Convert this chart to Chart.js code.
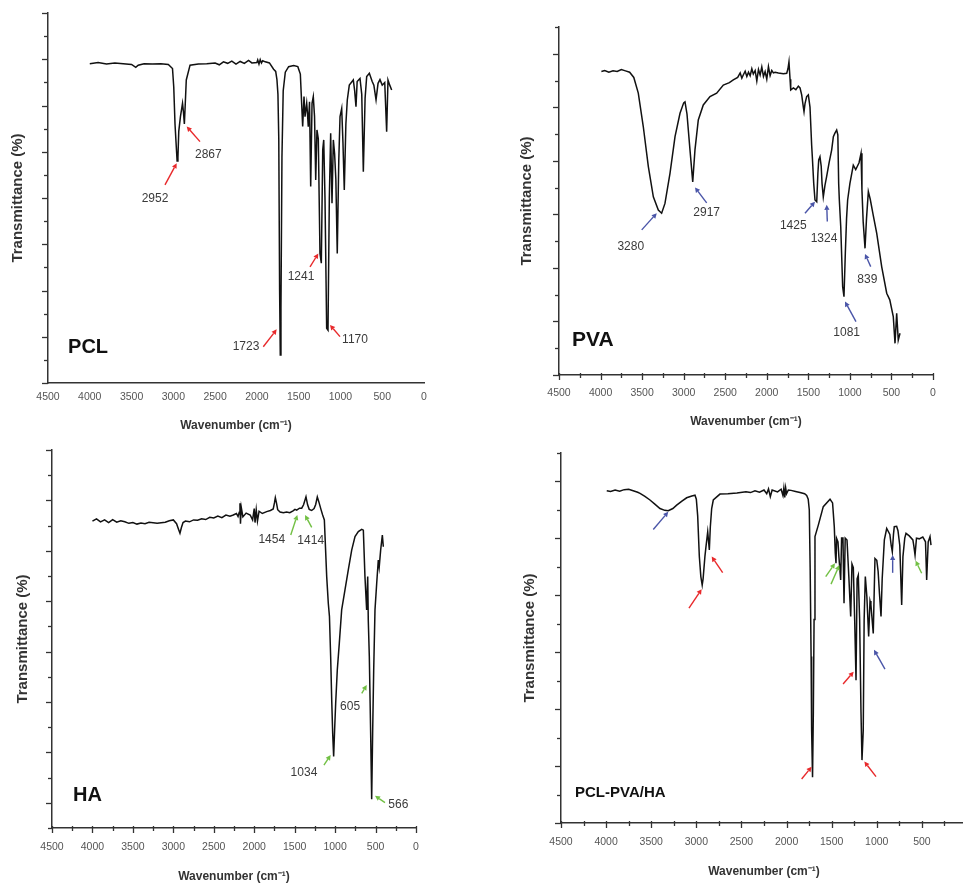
<!DOCTYPE html>
<html><head><meta charset="utf-8">
<script src="https://cdn.jsdelivr.net/npm/chart.js@4/dist/chart.umd.min.js"></script>
<style>
html,body{margin:0;padding:0;background:#fff;overflow:hidden;width:963px;height:884px;}
canvas{position:absolute;display:block;}
</style></head><body>
<canvas id="c1" width="480" height="440" style="left:0;top:0"></canvas>
<canvas id="c2" width="483" height="440" style="left:480px;top:0"></canvas>
<canvas id="c3" width="480" height="444" style="left:0;top:440px"></canvas>
<canvas id="c4" width="520" height="444" style="left:480px;top:440px"></canvas>
<script>
// ---------- DATA ----------
const xTickLabels = [4500,4000,3500,3000,2500,2000,1500,1000,500,0];

const pclWn = [4000,3900,3800,3700,3600,3500,3450,3420,3350,3250,3150,3060,3010,2995,2980,2965,2955,2945,2935,2915,2890,2878,2868,2858,2845,2800,2700,2600,2500,2450,2400,2350,2300,2250,2200,2150,2100,2060,2000,1990,1975,1960,1945,1930,1900,1850,1800,1775,1760,1748,1738,1728,1720,1712,1700,1685,1660,1620,1560,1510,1480,1452,1436,1424,1404,1395,1385,1370,1356,1340,1325,1310,1296,1281,1265,1245,1229,1212,1200,1185,1165,1149,1133,1117,1101,1085,1070,1055,1038,1020,1005,985,970,954,935,918,894,846,830,814,800,766,745,726,705,686,654,620,600,574,550,527,500,470,447,431,410,387];
const pclT  = [86.3,86.6,86.2,86.5,86.3,86.1,85.3,85.9,86.3,86.2,86.3,86.1,85,80,70,64,60,61,68,72,75.6,73,70,75,81.9,85.9,86.2,86.3,86.5,86.0,86.8,86.4,87.0,86.2,86.9,86.4,87.2,86.5,86.6,87.3,86.2,87.4,86.5,87.1,86.8,86.5,84.8,84.2,82,78,66,25,7.6,20,61,79,84,85.5,85.8,85.5,83.5,69.3,77.4,72,75.6,73,69.3,76,53.1,75.6,77.4,72,54.9,68.4,66,35,32.4,63,65.7,50,14.8,14.3,50,67.5,48.6,65.7,62,55,35,60,72,74.2,65,52.2,70,76.5,80.5,81.9,79,74.7,81.5,82.3,78,57.1,77,82.8,83.7,81.5,80.5,76.5,81,82,80.5,81.2,67.9,81.9,80.5,79.2];

const pvaWn = [3990,3950,3900,3850,3800,3750,3700,3650,3600,3546,3486,3425,3365,3305,3265,3225,3164,3104,3044,3000,2984,2960,2924,2891,2864,2824,2764,2683,2603,2523,2450,2403,2350,2320,2300,2283,2260,2240,2220,2200,2180,2162,2140,2120,2100,2080,2060,2040,2020,2000,1980,1960,1940,1920,1900,1860,1800,1760,1745,1733,1720,1712,1680,1650,1620,1600,1580,1560,1552,1540,1520,1500,1480,1460,1452,1435,1420,1399,1385,1375,1360,1345,1335,1320,1300,1280,1250,1219,1199,1180,1159,1145,1135,1127,1110,1087,1071,1055,1040,1027,1000,959,930,910,890,866,855,840,818,800,778,755,720,677,617,557,520,478,457,437,418,397];
const pvaT  = [87.2,87.5,87.0,87.4,87.2,87.8,87.4,87.0,85.5,81,71.4,59.9,51.2,47.4,46.5,49.3,58,68.5,75.2,78.2,78.5,75,64.7,55.5,64.7,73.3,77.6,80,81,83.3,84.0,84.8,85.5,86.8,85.3,86.2,87.3,85.8,87.0,86.0,88.0,86.5,87.5,84.5,87.8,86.2,88.5,85.8,87.2,85.0,88.6,86.0,87.5,86.8,87.0,86.8,86.6,86.7,88,90,85,81.9,82.5,82,83,82.5,80.5,77,75.7,78,80,80.5,77,66,62.7,55,50.3,49.8,58,61.8,62.7,60,55,51.2,54.5,57,61,64.7,68.5,69.5,70.4,69,55,50.3,42.6,25.4,22.5,35,45,50.3,55,60.3,59,60,61,63.7,53.2,44,36.4,45,52.7,50.5,46,40.7,31.1,23.5,21.6,16.8,9.1,17.7,10,12];

const haWn = [4000,3950,3900,3850,3800,3750,3700,3650,3600,3550,3500,3450,3400,3350,3300,3200,3100,3050,3000,2960,2935,2918,2900,2880,2850,2800,2750,2700,2650,2600,2550,2500,2450,2400,2350,2300,2259,2220,2200,2185,2176,2170,2160,2140,2100,2050,2020,2000,1990,1975,1960,1940,1900,1846,1800,1765,1750,1739,1725,1710,1680,1640,1600,1560,1520,1496,1475,1440,1413,1390,1360,1340,1320,1290,1260,1240,1220,1200,1175,1154,1133,1104,1084,1070,1055,1042,1030,1018,1006,993,973,948,919,878,837,795,754,713,671,651,631,610,597,590,577,560,548,536,523,507,486,466,455,437,416,404];
const haT  = [81.2,81.8,81.0,81.5,80.8,81.6,80.9,81.3,81.0,80.6,80.8,80.4,80.7,80.5,80.9,80.6,80.9,81.3,81.5,80.5,79,78,79.5,80.8,81.2,81.0,81.5,81.4,81.8,81.6,82.2,82.0,82.5,82.1,82.8,82.5,82.8,83.2,82.4,83.5,85.9,80.5,84.8,82.3,83.3,82.8,81.5,84.5,80.8,84.2,81.2,83.8,83.2,83.7,84.0,84.4,86.0,87.4,86.0,84.2,83.6,83.4,83.6,83.4,83.9,84.3,84.1,84.6,84.6,85.5,87.6,85.5,84.3,84.0,84.5,85.6,87.6,86.2,84.3,82.8,81.5,66.5,59.4,56,45.3,33.9,25,18.9,26,33,41.8,48.9,57.7,63,68.3,73.5,77.1,78.4,79,78.8,66.5,57.7,66.5,55,45.3,24.2,7.6,25,41.8,57.7,64.7,70.9,69,73.5,77.5,74.4];

const mixWn = [3993,3950,3900,3850,3800,3750,3700,3650,3624,3570,3514,3460,3403,3350,3311,3260,3218,3160,3107,3050,3015,3000,2985,2967,2950,2935,2925,2905,2893,2874,2856,2845,2830,2812,2738,2650,2550,2450,2400,2350,2300,2250,2220,2200,2180,2160,2100,2060,2040,2030,2020,2010,2000,1980,1950,1900,1851,1800,1777,1760,1748,1738,1728,1722,1712,1703,1695,1685,1648,1593,1518,1490,1471,1460,1452,1445,1430,1420,1400,1390,1375,1363,1350,1330,1308,1289,1275,1260,1245,1230,1218,1205,1190,1175,1164,1150,1140,1127,1110,1090,1075,1065,1039,1020,1000,985,970,953,940,916,890,855,840,828,815,806,780,765,745,724,710,690,676,640,600,590,576,560,530,490,460,447,430,410,399];
const mixT  = [89.8,89.6,90.0,89.7,90.1,90.2,89.8,89.4,89.1,88.3,87.3,86.2,85,84.5,84.4,85,85.9,87,87.9,88.4,88.6,87.5,83,72.1,66.6,64.3,66,72,74.7,78.7,73.8,80,85,87.3,88.9,89.0,89.2,89.5,89.3,89.8,89.4,90.0,89.0,90.3,88.2,90.0,89.5,90.2,88.5,90.5,88.0,90.6,89.0,90.0,89.9,89.6,89.3,89.0,88.5,87.5,84.6,68.4,45,25,12.4,30,55,77.4,80.5,85.5,87.5,86.5,80.1,73,70.2,76.9,76,72,65.7,77,77,59.4,77,76.5,65.7,55.8,70,69,55,38.6,66,67,55,30,17,25,55,66.6,61.2,50.4,60,59,51.2,71.5,71,68,62,55.8,66,76.5,79.6,78,75,73.3,78,80.1,80.2,79,75,58.9,72,77,78.3,77.6,76.5,75,72.4,77,76.8,77.3,76,65.7,76,77.4,75.1];

// annotation data (tip location in data units)
const pclAnnText = ['2952','2867','1723','1241','1170'];
const pclAnnWn   = [2960,2840,1763,1265,1125];
const pclAnnT    = [59.4,69.3,14.5,35,15.7];
const pvaAnnText = ['3280','2917','1425','1324','1081','839'];
const pvaAnnWn   = [3324,2864,1420,1279,1059,818];
const pvaAnnT    = [46.5,53.9,49.8,48.9,21.1,34.8];
const haAnnText  = ['1454','1414','605','1034','566'];
const haAnnWn    = [1467,1372,609,1055,507];
const haAnnT     = [82.8,82.8,37.8,19.3,8.5];
const mixAnnWn   = [3311,2941,2830,1463,1415,824,569,1031,1256,1722,1138];
const mixAnnT    = [84.1,63.2,72,70.2,69.7,72.4,70.9,46.8,40.9,15.2,16.6];

// ---------- STYLE ----------
const RED = '#e8292b', BLUE = '#4a55a8', GREEN = '#72c044';
const AXIS = '#333';
const FONT = "'Liberation Sans', Arial, sans-serif";
Chart.defaults.font.family = FONT;

const pclAnnStyle = {color: RED,
  tail: [[-11.7,21.7],[13.3,15],[-13.4,17.4],[-8.3,13.4],[10,11.7]],
  lab:  [[-21.7,35.7],[21.6,27.6],[-30.7,17.4],[-17.3,22.7],[25,15]]};
const pvaAnnStyle = {color: BLUE,
  tail: [[-15,16.7],[11.7,15.4],[-10,11.6],[0.6,16.7],[11,20],[5.7,12.7]],
  lab:  [[-26,34],[11.7,25.4],[-21.7,24.3],[-2.7,34.3],[1.7,31],[2.3,25.3]]};
const haAnnStyle = {color: GREEN,
  tail: [[-6.6,20],[6.7,12.3],[-5,8.3],[-6.7,10],[10,6.7]],
  lab:  [[-25.6,24.3],[5.7,25.7],[-16.7,21.7],[-26.7,17.7],[23.3,9]]};
const mixAnnStyle = {
  colors: [BLUE,RED,RED,GREEN,GREEN,BLUE,GREEN,BLUE,RED,RED,RED],
  tail: [[-15,17.6],[-12.7,19],[11,16],[-9.3,13.4],[-8.3,19],[0,17.7],[6,12.6],[11,19.3],[-10.6,12.3],[-10,12.3],[11.7,15]]};

function buildAnn(texts, wns, ts, style) {
  return wns.map((w, i) => ({
    text: texts ? texts[i] : null, wn: w, t: ts[i],
    color: style.colors ? style.colors[i] : style.color,
    tail: style.tail[i], lab: style.lab ? style.lab[i] : null
  }));
}

const decor = {
  id: 'decor',
  afterDraw(chart, args, o) {
    const {ctx, chartArea: ca, scales: {x, y}} = chart;
    ctx.save();
    ctx.strokeStyle = AXIS; ctx.lineWidth = 1.3;
    for (let i = 0; i <= o.yCount; i++) {
      const py = Math.round(y.getPixelForValue(100 * i / o.yCount)) + 0.5;
      const len = (i % 2 === o.yParity) ? 6 : 4;
      ctx.beginPath(); ctx.moveTo(ca.left - len, py); ctx.lineTo(ca.left, py); ctx.stroke();
    }
    if (o.xTicks) {
      for (let v = 0; v <= 4500; v += 250) {
        const px = Math.round(x.getPixelForValue(v)) + 0.5;
        const major = v % 500 === 0;
        ctx.beginPath(); ctx.moveTo(px, ca.bottom - 2); ctx.lineTo(px, ca.bottom + (major ? 5 : 3)); ctx.stroke();
      }
    }
    // annotations
    (o.ann || []).forEach(a => {
      const tx = x.getPixelForValue(a.wn), ty = y.getPixelForValue(a.t);
      const sx = tx + a.tail[0], sy = ty + a.tail[1];
      const ang = Math.atan2(ty - sy, tx - sx);
      const hl = 5, hw = 2.6;
      const bx = tx - hl * Math.cos(ang), by = ty - hl * Math.sin(ang);
      ctx.strokeStyle = a.color; ctx.fillStyle = a.color; ctx.lineWidth = 1.4;
      ctx.beginPath(); ctx.moveTo(sx, sy); ctx.lineTo(bx, by); ctx.stroke();
      ctx.beginPath();
      ctx.moveTo(tx, ty);
      ctx.lineTo(bx + hw * Math.sin(ang), by - hw * Math.cos(ang));
      ctx.lineTo(bx - hw * Math.sin(ang), by + hw * Math.cos(ang));
      ctx.closePath(); ctx.fill();
      if (a.text) {
        ctx.fillStyle = '#3a3a3a';
        ctx.font = '12px ' + FONT;
        ctx.textAlign = 'center'; ctx.textBaseline = 'middle';
        ctx.fillText(a.text, tx + a.lab[0], ty + a.lab[1]);
      }
    });
    // panel label
    if (o.label) {
      ctx.fillStyle = '#111';
      ctx.font = 'bold ' + o.label.size + 'px ' + FONT;
      ctx.textAlign = 'left'; ctx.textBaseline = 'middle';
      ctx.fillText(o.label.text, x.getPixelForValue(o.label.wn), y.getPixelForValue(o.label.t));
    }
    ctx.restore();
  }
};

function makePanel(id, wn, tr, g, deco) {
  const data = wn.map((w, i) => ({x: w, y: tr[i]}));
  new Chart(document.getElementById(id), {
    type: 'line',
    data: {datasets: [{data, borderColor: '#111', borderWidth: 1.5, pointRadius: 0, tension: 0, fill: false}]},
    options: {
      responsive: false, animation: false, events: [],
      layout: {padding: {left: 0, top: g.T, right: g.w - g.R, bottom: 0}},
      plugins: {legend: {display: false}, tooltip: {enabled: false}, decor: deco},
      scales: {
        x: {
          type: 'linear', reverse: true, min: 0, max: 4500,
          afterFit: s => { s.height = g.h - g.B; },
          afterBuildTicks: s => { s.ticks = xTickLabels.map(v => ({value: v})); },
          grid: {display: false, drawTicks: false},
          border: {display: true, color: AXIS, width: 1.5},
          ticks: {padding: g.xlp, color: '#555', font: {size: 10.5}, maxRotation: 0, autoSkip: false,
                  callback: v => String(v)},
          title: {display: true, text: 'Wavenumber (cm\u207B\u00B9)', color: '#333',
                  font: {size: 12, weight: 'bold'}, padding: {top: 0, bottom: g.xtp}}
        },
        y: {
          type: 'linear', min: 0, max: 100,
          afterFit: s => { s.width = g.L; },
          grid: {display: false, drawTicks: false},
          border: {display: true, color: AXIS, width: 1.5},
          ticks: {display: false},
          title: {display: true, text: 'Transmittance (%)', color: '#333',
                  font: {size: 15, weight: 'bold'}, padding: {top: g.ytp, bottom: 0}}
        }
      }
    },
    plugins: [decor]
  });
}

makePanel('c1', pclWn, pclT, {w: 480, h: 440, L: 48, T: 13, R: 424, B: 383, xlp: 8, xtp: 6.8, ytp: 9},
  {yCount: 16, yParity: 0, xTicks: false, ann: buildAnn(pclAnnText, pclAnnWn, pclAnnT, pclAnnStyle),
   label: {text: 'PCL', wn: 4260, t: 9.7, size: 20}});
makePanel('c2', pvaWn, pvaT, {w: 483, h: 440, L: 79, T: 27, R: 453, B: 375, xlp: 12, xtp: 10.8, ytp: 38},
  {yCount: 13, yParity: 0, xTicks: true, ann: buildAnn(pvaAnnText, pvaAnnWn, pvaAnnT, pvaAnnStyle),
   label: {text: 'PVA', wn: 4344, t: 10, size: 21}});
makePanel('c3', haWn, haT, {w: 480, h: 444, L: 52, T: 10, R: 416, B: 388, xlp: 13, xtp: 0, ytp: 14},
  {yCount: 15, yParity: 1, xTicks: true, ann: buildAnn(haAnnText, haAnnWn, haAnnT, haAnnStyle),
   label: {text: 'HA', wn: 4240, t: 8.5, size: 20}});
makePanel('c4', mixWn, mixT, {w: 520, h: 444, L: 81, T: 13, R: 487, B: 383, xlp: 13, xtp: 4.8, ytp: 41},
  {yCount: 13, yParity: 0, xTicks: true, ann: buildAnn(null, mixAnnWn, mixAnnT, mixAnnStyle),
   label: {text: 'PCL-PVA/HA', wn: 4345, t: 8.1, size: 15}});
</script>
</body></html>
